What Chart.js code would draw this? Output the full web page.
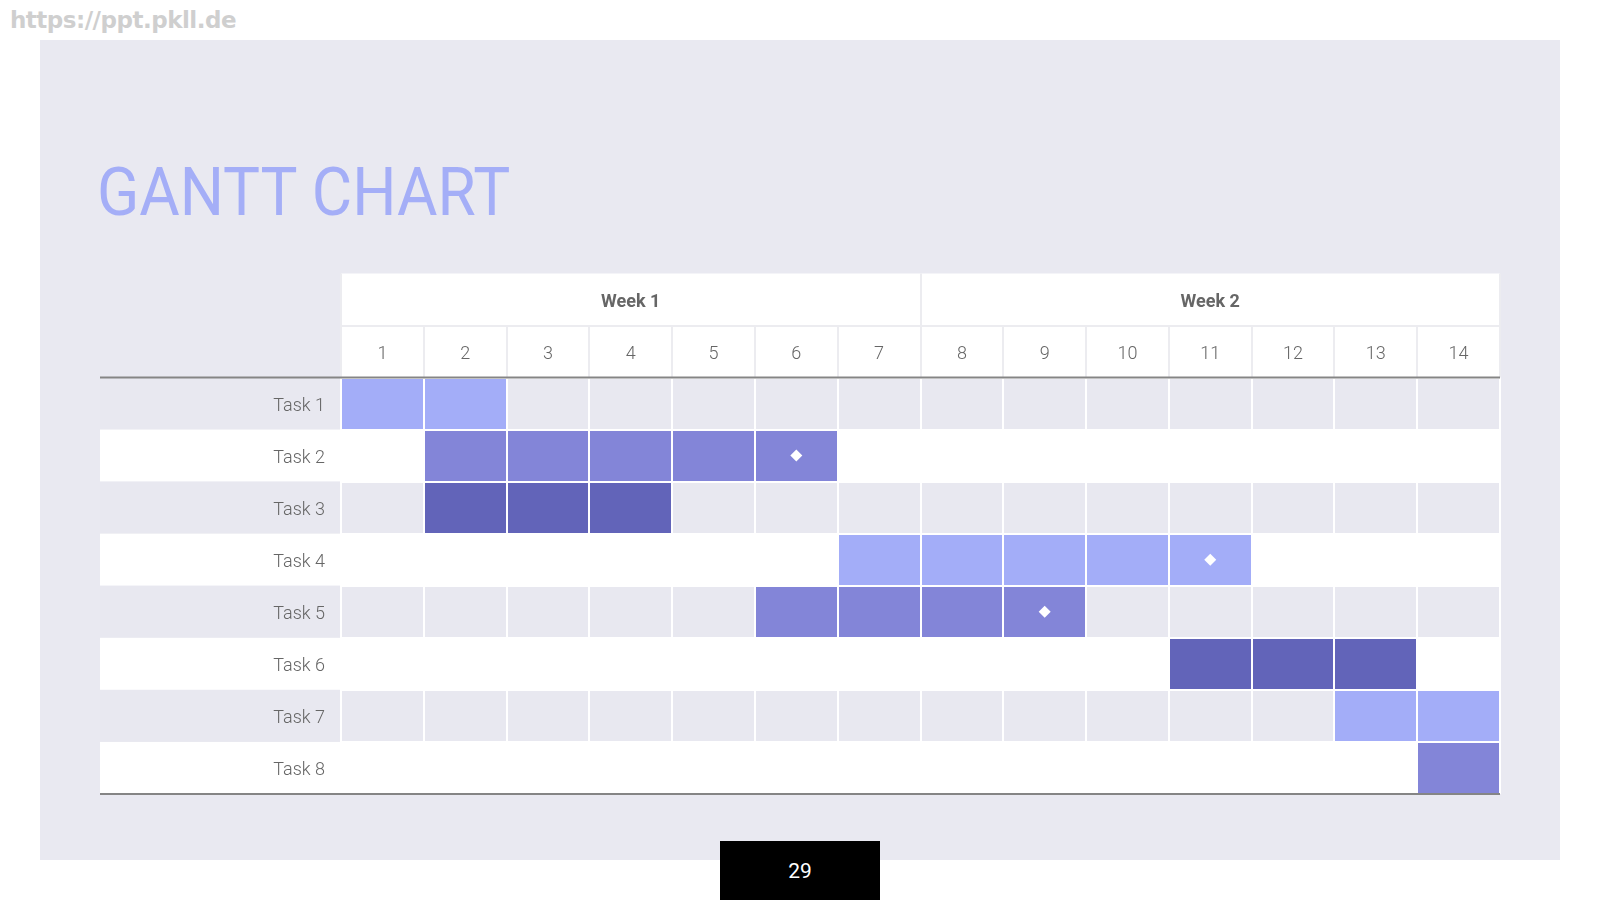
<!DOCTYPE html>
<html><head><meta charset="utf-8">
<script src="https://cdn.jsdelivr.net/npm/chart.js@4.4.1/dist/chart.umd.min.js"></script>
<style>
html,body{margin:0;padding:0;background:#fff;width:1600px;height:900px;overflow:hidden;}
#slide{position:absolute;left:40px;top:40px;width:1520px;height:820px;background:#E9E9F1;}
#wm{position:absolute;left:10px;top:9px;font:bold 23px "DejaVu Sans";color:#CFCFCF;line-height:1;white-space:nowrap;letter-spacing:-0.5px;}
#title{position:absolute;left:97px;top:160px;font:400 66px Roboto;color:#A4AEF7;line-height:1;white-space:nowrap;transform:scaleX(0.94);transform-origin:0 0;}
#page{position:absolute;left:720px;top:841px;width:160px;height:59px;background:#000;color:#fff;font:400 21px Roboto;display:flex;align-items:center;justify-content:center;}
#wrap{position:absolute;left:0;top:0;width:1600px;height:900px;}
</style></head>
<body>
<div id="slide"></div>
<div id="wm">https://ppt.pkll.de</div>
<div id="title">GANTT CHART</div>
<div id="wrap"><canvas id="c" width="1600" height="900"></canvas></div>
<div id="page">29</div>
<script>
const tasks = ['Task 1','Task 2','Task 3','Task 4','Task 5','Task 6','Task 7','Task 8'];
const dayLabels = ['1','2','3','4','5','6','7','8','9','10','11','12','13','14'];
const weekLabels = ['Week 1','Week 2'];
const startDay = [1, 2, 2, 7, 6, 11, 13, 14];
const endDay   = [2, 6, 4, 11, 9, 13, 14, 14];
const colorGroup = ['light','medium','dark','light','medium','dark','light','medium'];
const milestoneTask = ['Task 2','Task 4','Task 5'];
const milestoneDay = [6, 11, 9];

const palette = {light:'#A3ADF8', medium:'#8385D8', dark:'#6264B9'};
const barData = tasks.map((t,i)=>[startDay[i]-1, endDay[i]]);
const msData = milestoneTask.map((t,i)=>({x: milestoneDay[i]-0.5, y: t}));

const tablePlugin = {
  id:'table',
  beforeDraw(chart){
    const {ctx, chartArea:a, scales} = chart;
    const y = scales.y, wk = scales.week, dd = scales.xDay;
    ctx.save();
    ctx.fillStyle = '#FFFFFF';
    ctx.fillRect(a.left, wk.top, a.right - a.left, dd.bottom - wk.top);
    const h = y.getPixelForValue(1) - y.getPixelForValue(0);
    tasks.forEach((t,i)=>{
      const c = y.getPixelForValue(i);
      ctx.fillStyle = i % 2 === 0 ? '#E8E8F0' : '#FFFFFF';
      ctx.fillRect(y.left, c - h/2, a.right - y.left, h);
    });
    ctx.restore();
  },
  afterDraw(chart){
    const {ctx, chartArea:a, scales} = chart;
    const y = scales.y;
    ctx.save();
    ctx.strokeStyle = '#858585';
    ctx.lineWidth = 2;
    ctx.beginPath();
    ctx.moveTo(y.left, a.top); ctx.lineTo(a.right, a.top);
    ctx.moveTo(y.left, a.bottom); ctx.lineTo(a.right, a.bottom);
    ctx.stroke();
    ctx.restore();
  }
};

const labelFont = {family:'Roboto', size:18, weight:300};

new Chart(document.getElementById('c'), {
  type:'bar',
  data:{
    labels: tasks,
    datasets:[
      {type:'bar', data: barData, backgroundColor: colorGroup.map(g=>palette[g]), borderWidth:0,
       barPercentage:1, categoryPercentage:1, xAxisID:'x', yAxisID:'y', order:2},
      {type:'scatter', data: msData, pointStyle:'rectRot', pointRadius:6, pointHoverRadius:6,
       backgroundColor:'#FFFFFF', borderWidth:0, xAxisID:'x', yAxisID:'y', order:1}
    ]
  },
  options:{
    indexAxis:'y', responsive:false, animation:false, maintainAspectRatio:false,
    layout:{padding:{left:100, right:100, top:273.5, bottom:106}},
    plugins:{legend:{display:false}, tooltip:{enabled:false}},
    scales:{
      x:{type:'linear', axis:'x', position:'bottom', min:0, max:14,
         ticks:{display:false, stepSize:1},
         grid:{color:'#FFFFFF', lineWidth:2, z:1, drawTicks:false},
         border:{display:false}, afterFit:s=>{s.height=0;}},
      y:{type:'category', axis:'y', position:'left', labels:tasks, offset:true,
         grid:{offset:true, color:'#FFFFFF', lineWidth:2, z:1, drawTicks:false},
         border:{display:false},
         ticks:{color:'#666666', font:labelFont, padding:16, labelOffset:3},
         afterFit:s=>{s.width=241;}},
      xDay:{type:'category', axis:'x', position:'top', labels:dayLabels, offset:true, weight:0,
         grid:{offset:true, drawOnChartArea:false, drawTicks:true, tickLength:52, color:'#ECECF0', lineWidth:2},
         border:{display:false},
         ticks:{color:'#666666', font:labelFont, padding:-40, maxRotation:0, autoSkip:false},
         afterFit:s=>{s.height=52;}},
      week:{type:'category', axis:'x', position:'top', labels:weekLabels, offset:true, weight:1,
         grid:{offset:true, drawOnChartArea:false, drawTicks:true, tickLength:52, color:'#ECECF0', lineWidth:2},
         border:{display:true, color:'#ECECF0', width:2},
         ticks:{color:'#666666', font:{family:'Roboto', size:18, weight:'bold'}, padding:-40, maxRotation:0, autoSkip:false},
         afterFit:s=>{s.height=52;}}
    }
  },
  plugins:[tablePlugin]
});
</script>
</body></html>
